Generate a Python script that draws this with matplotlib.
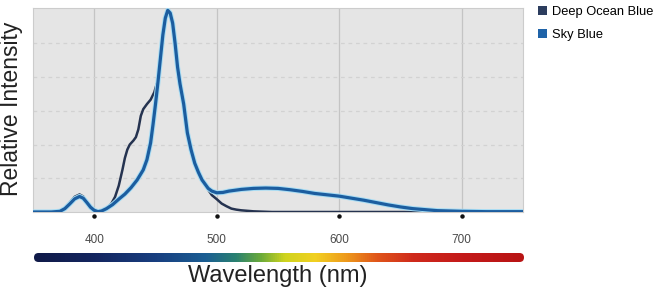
import numpy as np
import matplotlib
matplotlib.use("Agg")
import matplotlib.pyplot as plt
import matplotlib.patheffects as pe
from matplotlib.patches import Patch, FancyBboxPatch
from matplotlib.colors import LinearSegmentedColormap

plt.rcParams['font.family'] = ['Liberation Sans', 'DejaVu Sans']

# ---- data ----
sky_nm = [350, 365, 372, 376, 380, 384, 388, 391, 394, 397, 400, 403, 406, 410, 415, 420,
          425, 430, 435, 440, 443, 446, 448, 450, 452, 454, 456, 458, 460, 462, 464, 466,
          468, 470, 473, 476, 479, 482, 485, 488, 490, 493, 496, 500, 505, 510, 520, 530,
          540, 550, 560, 570, 580, 590, 600, 610, 620, 630, 640, 650, 660, 670, 680, 690,
          700, 720, 750]
sky_val = [0.0, 0.0, 0.02, 0.1, 0.24, 0.39, 0.46, 0.41, 0.28, 0.14, 0.05, 0.01, 0.03, 0.1, 0.22, 0.38,
           0.53, 0.72, 0.95, 1.25, 1.55, 2.05, 2.6, 3.2, 3.85, 4.55, 5.25, 5.75, 5.98, 5.9, 5.6, 5.0,
           4.3, 3.8, 3.2, 2.35, 1.85, 1.45, 1.18, 0.95, 0.85, 0.7, 0.62, 0.57, 0.58, 0.62, 0.67, 0.70,
           0.71, 0.70, 0.66, 0.61, 0.55, 0.51, 0.47, 0.41, 0.35, 0.28, 0.21, 0.15, 0.10, 0.07, 0.04, 0.03,
           0.02, 0.01, 0.01]

deep_nm = [350, 365, 372, 376, 380, 384, 388, 391, 394, 397, 400, 403, 406, 410, 414, 417,
           420, 423, 425, 427, 429, 432, 434, 436, 438, 440, 443, 446, 449, 451, 452, 454,
           456, 458, 460, 462, 464, 466, 468, 470, 473, 476, 479, 482, 485, 488, 490, 493,
           496, 500, 504, 508, 512, 516, 520, 530, 545, 750]
deep_val = [0.0, 0.0, 0.02, 0.12, 0.28, 0.45, 0.52, 0.46, 0.3, 0.15, 0.05, 0.01, 0.03, 0.1, 0.25, 0.45,
            0.78, 1.25, 1.6, 1.85, 2.0, 2.12, 2.22, 2.45, 2.85, 3.05, 3.2, 3.33, 3.55, 3.8, 3.85, 4.55,
            5.25, 5.75, 5.98, 5.9, 5.6, 5.0, 4.3, 3.8, 3.2, 2.35, 1.85, 1.45, 1.18, 0.95, 0.85, 0.66,
            0.5, 0.38, 0.25, 0.17, 0.1, 0.07, 0.05, 0.02, 0.0, 0.0]

series_names = ["Deep Ocean Blue", "Sky Blue"]
xticks = [400, 500, 600, 700]
xtick_labels = ["400", "500", "600", "700"]

# spectrum colors for the gradient bar
spec_nm = [350, 400, 450, 490, 515, 535, 555, 580, 605, 630, 660, 700, 750]
spec_col = ["#101a48", "#142660", "#183f80", "#1b5e93", "#2a8170", "#6aaa3a", "#cfd41e",
            "#f2d021", "#ee9a1c", "#e0561a", "#cf2a1c", "#c41a1a", "#b81414"]

# ---- figure ----
fig = plt.figure(figsize=(6.58, 3.0), dpi=100)
ax = fig.add_axes([33/658, 1-212/300, (523-33)/658, (212-8)/300])
ax.set_facecolor("#e5e5e5")
ax.set_xlim(350, 750)
ax.set_ylim(0, 6.05)

for x in xticks:
    ax.axvline(x, color="#c4c4c4", lw=0.9, zorder=1)
for y in [1, 2, 3, 4, 5]:
    ax.axhline(y, color="#d2d2d2", lw=0.9, ls=(0, (3, 3)), zorder=1)

ax.plot(deep_nm, deep_val, color="#253350", lw=1.8, zorder=3,
        solid_joinstyle="round", solid_capstyle="round")
ax.plot(sky_nm, sky_val, color="#1c5d9f", lw=2.3, zorder=4,
        solid_joinstyle="round", solid_capstyle="round",
        path_effects=[pe.Stroke(linewidth=3.7, foreground="#a6dcf4"), pe.Normal()])

for s in ax.spines.values():
    s.set_color("#cccccc")
    s.set_linewidth(0.8)

ax.set_xticks(xticks)
ax.set_xticklabels(xtick_labels)
ax.set_yticks([])
ax.tick_params(axis="x", length=0, pad=16, labelsize=8.5, labelcolor="#4a4a4a")
# tick dots under axis
ax.plot(xticks, [-0.13]*len(xticks), "o", ms=2.2, color="#111111", clip_on=False, zorder=5)

fig.text(12/658, 1-109/300, "Relative Intensity", rotation=90, ha="center", va="center",
         fontsize=16.5, color="#222222")
fig.text(278/658, 1-276/300, "Wavelength (nm)", ha="center", va="center",
         fontsize=17, color="#222222")

# gradient bar (axes in pixel units so the ends can be rounded)
bw, bh = 490, 9
bax = fig.add_axes([34/658, 1-262/300, bw/658, bh/300])
bax.set_xlim(0, bw)
bax.set_ylim(0, bh)
bax.axis("off")
cmap = LinearSegmentedColormap.from_list(
    "spec", [((n-350)/400, c) for n, c in zip(spec_nm, spec_col)])
grad = np.linspace(0, 1, 512).reshape(1, -1)
im = bax.imshow(grad, aspect="auto", cmap=cmap, extent=[0, bw, 0, bh])
clip = FancyBboxPatch((0, 0), bw, bh, boxstyle="round,pad=0,rounding_size=4.5",
                      transform=bax.transData, facecolor="none", edgecolor="none")
bax.add_patch(clip)
im.set_clip_path(clip)

# legend
handles = [Patch(facecolor="#2c3d5e", edgecolor="none"),
           Patch(facecolor="#1f63a8", edgecolor="none")]
fig.legend(handles, series_names, loc="upper left", bbox_to_anchor=(535/658, 1-3/300),
           frameon=False, fontsize=9.3, handlelength=0.7, handleheight=0.7,
           handletextpad=0.4, labelspacing=0.85, borderaxespad=0, borderpad=0.2)

fig.savefig("out.png", dpi=100)
